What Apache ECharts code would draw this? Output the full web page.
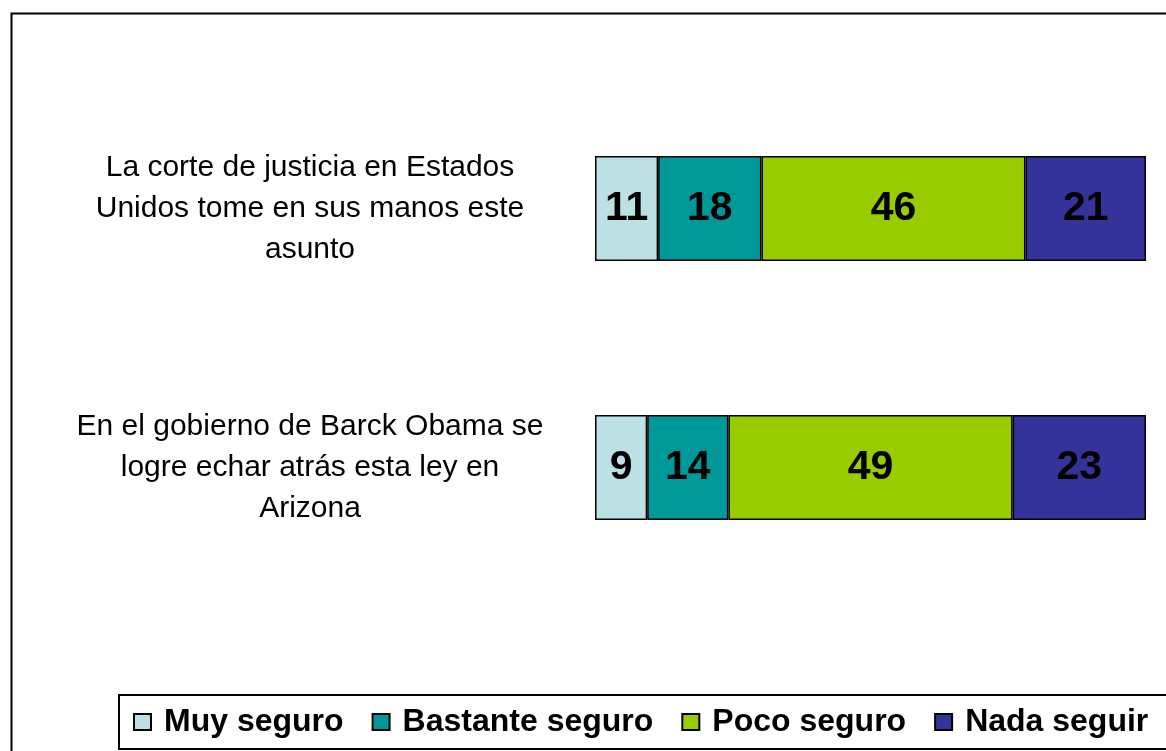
<!DOCTYPE html>
<html>
<head>
<meta charset="utf-8">
<style>
  html, body { margin: 0; padding: 0; background: #fff; }
  #chart { width: 1166px; height: 751px; }
</style>
<script src="https://cdn.jsdelivr.net/npm/echarts@6/dist/echarts.min.js"></script>
</head>
<body>
<div id="chart"></div>
<script>
var categories = [
    'La corte de justicia en Estados\nUnidos tome en sus manos este\nasunto',
    'En el gobierno de Barck Obama se\nlogre echar atrás esta ley en\nArizona'
];
var seriesNames = ['Muy seguro', 'Bastante seguro', 'Poco seguro', 'Nada seguir'];
var muySeguro = [11, 9];
var bastanteSeguro = [18, 14];
var pocoSeguro = [46, 49];
var nadaSeguro = [21, 23];
var colors = ['#bde0e4', '#009999', '#99cc00', '#333399'];

var values = [muySeguro, bastanteSeguro, pocoSeguro, nadaSeguro];

// 100% stacked: each bar fills the whole width
var totals = categories.map(function (c, i) {
    var sum = 0;
    values.forEach(function (arr) { sum += arr[i]; });
    return sum;
});

var myChart = echarts.init(document.getElementById('chart'));

var series = values.map(function (arr, k) {
    return {
        name: seriesNames[k],
        type: 'bar',
        stack: 'total',
        barWidth: 105,
        itemStyle: {
            color: colors[k],
            borderColor: '#000',
            borderWidth: 1.5
        },
        label: {
            show: true,
            position: 'inside',
            color: '#000',
            fontFamily: 'Liberation Sans, Arial, sans-serif',
            fontWeight: 'bold',
            fontSize: 41,
            formatter: function (p) {
                return arr[p.dataIndex];
            }
        },
        data: arr.map(function (v, i) {
            return v / totals[i] * 100;
        })
    };
});

var option = {
    animation: false,
    backgroundColor: '#fff',
    grid: {
        left: 595,
        right: 20,
        top: 79,
        bottom: 154
    },
    xAxis: {
        type: 'value',
        min: 0,
        max: 100,
        show: false
    },
    yAxis: {
        type: 'category',
        inverse: true,
        data: categories,
        axisLine: {show: false},
        axisTick: {show: false},
        splitLine: {show: false},
        axisLabel: {
            align: 'center',
            margin: 285,
            color: '#000',
            fontFamily: 'Liberation Sans, Arial, sans-serif',
            fontSize: 30,
            lineHeight: 41
        }
    },
    legend: {
        data: seriesNames,
        left: 119,
        top: 695,
        width: 1100,
        orient: 'horizontal',
        icon: 'rect',
        itemWidth: 17,
        itemHeight: 16,
        itemGap: 28,
        borderColor: '#000',
        borderWidth: 2,
        padding: [10, 40, 10, 14],
        itemStyle: {
            borderColor: '#000',
            borderWidth: 2
        },
        textStyle: {
            color: '#000',
            fontFamily: 'Liberation Sans, Arial, sans-serif',
            fontWeight: 'bold',
            fontSize: 32,
            lineHeight: 34,
            padding: [0, 0, 0, 8]
        }
    },
    graphic: [{
        type: 'rect',
        left: 9,
        top: 11,
        shape: {width: 1200, height: 800},
        style: {fill: 'none', stroke: '#000', lineWidth: 2},
        silent: true,
        z: -1
    }],
    series: series
};

myChart.setOption(option);
</script>
</body>
</html>
